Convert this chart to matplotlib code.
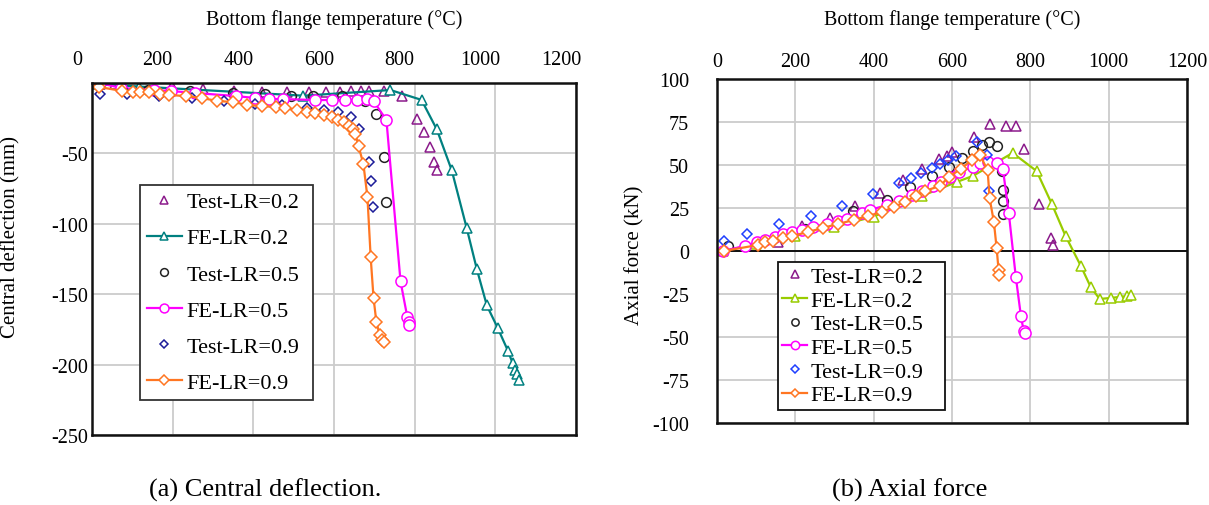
import matplotlib
matplotlib.use("Agg")
import matplotlib.pyplot as plt
import matplotlib.transforms as mtransforms

plt.rcParams['font.family'] = ['Liberation Serif', 'DejaVu Serif']
plt.rcParams['axes.unicode_minus'] = False

# ---- (a) central deflection, temperature (C) vs deflection (mm) ----
a_test02_T = [20, 57, 199, 276, 353, 422, 484, 537, 581, 616, 643, 666, 686, 723, 768, 805, 822, 837, 847, 855]
a_test02_D = [-0.5, -0.7, -2.1, -4.3, -5.7, -6.4, -6.4, -6.4, -6.4, -6.4, -5.7, -5.7, -5.7, -5.7, -9.3, -25.6, -34.9, -45.6, -56.2, -61.9]

a_fe02_T = [15, 117, 524, 740, 817, 855, 892, 929, 954, 979, 1006, 1031, 1043, 1049, 1053, 1058]
a_fe02_D = [-1, -2.5, -9, -5, -12, -33, -62, -103, -132, -158, -174, -190, -199, -204, -207, -211]

a_test05_T = [17, 72, 139, 243, 350, 430, 494, 549, 619, 678, 705, 723, 730]
a_test05_D = [-0.7, -3.6, -5, -5.7, -7.1, -7.8, -9.3, -9.3, -9.3, -12.8, -22.1, -52.7, -84.7]

a_fe05_T = [20, 72, 154, 196, 256, 358, 405, 440, 474, 554, 596, 628, 656, 681, 698, 730, 765, 782, 785, 787]
a_fe05_D = [0, -3.6, -5, -5.7, -7.1, -9.3, -10.7, -11.4, -11.4, -12.1, -12.1, -12.1, -12.1, -11.4, -12.8, -26.3, -140.9, -166.5, -170, -172]

a_test09_T = [20, 87, 166, 248, 328, 405, 472, 534, 576, 609, 643, 663, 686, 691, 696]
a_test09_D = [-7.8, -7.8, -9.3, -10.7, -12.8, -14.9, -15.7, -17.8, -19.2, -20.6, -24.2, -32.8, -56.2, -69.8, -88.3]

a_fe09_T = [17, 75, 102, 119, 142, 169, 191, 233, 273, 311, 350, 385, 422, 455, 479, 509, 534, 554, 574, 596,
            609, 624, 636, 648, 653, 661, 673, 683, 691, 698, 705, 713, 718, 723]
a_fe09_D = [-2.8, -5.7, -6.4, -6.4, -6.4, -7.8, -8.5, -9.3, -10.7, -12.8, -13.5, -15.7, -16.4, -17.1, -17.8, -19.2, -20.6, -21.4, -22.8, -24.2,
            -26.3, -27.8, -30.6, -32.8, -36.3, -44.9, -57.7, -81.2, -123.9, -152.4, -169.5, -178.8, -182.3, -183.8]

# ---- (b) axial force, temperature (C) vs force (kN) ----
b_test02_T = [156, 217, 288, 352, 416, 474, 523, 566, 587, 600, 656, 696, 737, 763, 783, 821, 852, 857]
b_test02_F = [5.2, 14.5, 19.2, 26.2, 33.7, 41.3, 47.7, 53.5, 55.2, 57.6, 66.3, 73.8, 72.7, 72.7, 59.3, 27.3, 7.6, 3.5]

b_fe02_T = [15, 100, 200, 300, 400, 523, 612, 653, 755, 816, 855, 890, 929, 954, 977, 1005, 1028, 1048, 1056]
b_fe02_F = [0, 4, 9, 14, 20, 32, 40.1, 43.6, 57, 46.5, 27.3, 8.7, -8.7, -20.9, -27.9, -27.3, -26.7, -26.2, -25.6]

b_test05_T = [28, 224, 347, 434, 492, 548, 592, 625, 653, 676, 694, 714, 727, 730, 730, 730]
b_test05_F = [2.9, 12.8, 23.3, 29.7, 37.2, 43.6, 48.8, 54.1, 58.1, 61.6, 63.4, 61, 46.5, 35.5, 29.1, 21.5]

b_fe05_T = [15, 71, 102, 122, 148, 168, 191, 217, 245, 281, 309, 332, 370, 390, 434, 464, 497, 523, 551, 571,
            594, 617, 653, 671, 691, 714, 730, 745, 763, 776, 783, 786]
b_fe05_F = [0, 2.9, 5.2, 6.4, 8.1, 9.9, 11, 12.2, 14, 15.7, 17.4, 18.6, 22.1, 23.8, 26.7, 29.1, 32.6, 34.9, 37.8, 40.1,
            43, 45.9, 48.8, 51.2, 51.7, 51.2, 47.7, 22.1, -15.1, -37.8, -46.5, -47.7]

b_test09_T = [18, 77, 158, 240, 319, 398, 464, 495, 520, 548, 569, 589, 610, 663, 689, 694]
b_test09_F = [5.8, 9.9, 15.7, 20.3, 26.2, 33.1, 39.5, 42.4, 45.3, 48.3, 50.6, 52.9, 55.2, 63.4, 55.8, 34.9]

b_fe09_T = [18, 105, 122, 143, 168, 191, 232, 270, 309, 349, 385, 421, 452, 480, 508, 531, 569, 592, 622, 651,
            671, 691, 696, 707, 714, 719, 719]
b_fe09_F = [0, 3.5, 5.2, 5.8, 7.6, 8.7, 11, 13.4, 15.7, 18, 20.3, 22.7, 25.6, 28.5, 32, 34.9, 37.8, 43, 47.7, 52.9,
            55.8, 47.1, 30.8, 16.9, 1.7, -11, -14]

labels = ['Test-LR=0.2', 'FE-LR=0.2', 'Test-LR=0.5', 'FE-LR=0.5', 'Test-LR=0.9', 'FE-LR=0.9']
x_ticks = [0, 200, 400, 600, 800, 1000, 1200]

purple = '#8B1A8B'
black = '#222222'
magenta = '#FF00FF'
orange = '#FF7622'

fig = plt.figure(figsize=(12.09, 5.06), dpi=100)
ax1 = fig.add_axes([0.0761, 0.1383, 0.4003, 0.6957])
ax2 = fig.add_axes([0.5930, 0.1621, 0.3888, 0.6798])


def test_pts(ax, x, y, marker, color, label, ms=7):
    ax.plot(x, y, linestyle='none', marker=marker, ms=ms, mfc='none', mec=color, mew=1.1, label=label)


def fe_line(ax, x, y, marker, color, label, ms=7):
    ax.plot(x, y, '-', color=color, lw=1.6, marker=marker, ms=ms, mfc='white', mec=color, mew=1.1, label=label)


# panel (a)
test_pts(ax1, a_test02_T, a_test02_D, '^', purple, labels[0])
fe_line(ax1, a_fe02_T, a_fe02_D, '^', '#008080', labels[1])
test_pts(ax1, a_test05_T, a_test05_D, 'o', black, labels[2])
fe_line(ax1, a_fe05_T, a_fe05_D, 'o', magenta, labels[3], ms=8)
test_pts(ax1, a_test09_T, a_test09_D, 'D', '#1C1C99', labels[4], ms=5.5)
fe_line(ax1, a_fe09_T, a_fe09_D, 'D', orange, labels[5], ms=6)
ax1.set_xlim(0, 1200)
ax1.set_ylim(-250, 0)
ax1.set_yticks([-250, -200, -150, -100, -50])

# panel (b)
test_pts(ax2, b_test02_T, b_test02_F, '^', purple, labels[0])
fe_line(ax2, b_fe02_T, b_fe02_F, '^', '#99CC00', labels[1])
test_pts(ax2, b_test05_T, b_test05_F, 'o', black, labels[2])
fe_line(ax2, b_fe05_T, b_fe05_F, 'o', magenta, labels[3], ms=8)
test_pts(ax2, b_test09_T, b_test09_F, 'D', '#1F3FFF', labels[4], ms=5.5)
fe_line(ax2, b_fe09_T, b_fe09_F, 'D', orange, labels[5], ms=6)
ax2.axhline(0, color='black', lw=1.3, zorder=1.5)
ax2.set_xlim(0, 1200)
ax2.set_ylim(-100, 100)
ax2.set_yticks(range(-100, 101, 25))

for ax in (ax1, ax2):
    ax.set_xticks(x_ticks)
    ax.xaxis.tick_top()
    ax.xaxis.set_label_position('top')
    ax.grid(True, color='#CCCCCC', lw=1.3)
    ax.set_axisbelow(True)
    ax.tick_params(length=0, labelsize=14.5)
    for s in ax.spines.values():
        s.set_linewidth(1.8)
        s.set_color('#111111')

ax1.set_xlabel('Bottom flange temperature (°C)', fontsize=14.5, labelpad=19)
ax2.set_xlabel('Bottom flange temperature (°C)', fontsize=14.5, labelpad=20)
ax1.tick_params(axis='x', pad=10)
ax1.tick_params(axis='y', pad=3)
ax2.tick_params(axis='x', pad=6)
ax2.tick_params(axis='y', pad=20)
# Excel puts the top labels of panel (a) a little to the left
shift = mtransforms.ScaledTranslation(-15 / 100, 0, fig.dpi_scale_trans)
for t in ax1.get_xticklabels():
    t.set_transform(t.get_transform() + shift)

ax1.set_ylabel('Central deflection (mm)', fontsize=15)
ax1.yaxis.set_label_coords(-0.147, 0.565)
ax2.set_ylabel('Axial force (kN)', fontsize=15)
ax2.yaxis.set_label_coords(-0.155, 0.491)

leg1 = ax1.legend(loc='upper left', bbox_to_anchor=(0.099, 0.099, 0.357, 0.611), mode='expand',
                  borderaxespad=0, fontsize=16,
                  frameon=True, fancybox=False, framealpha=1, edgecolor='#333333',
                  labelspacing=0.7, handlelength=1.6, handletextpad=0.2, markerscale=0.8, borderpad=0.3)
leg1.get_frame().set_linewidth(1.3)
leg2 = ax2.legend(loc='upper left', bbox_to_anchor=(0.13, 0.038, 0.355, 0.43), mode='expand',
                  borderaxespad=0, fontsize=16,
                  frameon=True, fancybox=False, framealpha=1, edgecolor='#111111',
                  labelspacing=0.14, handlelength=1.1, handletextpad=0.15, markerscale=0.75, borderpad=0.2)
leg2.get_frame().set_linewidth(1.3)

fig.text(265 / 1209, 1 - 490 / 506, '(a) Central deflection.', ha='center', va='center', fontsize=19)
fig.text(910 / 1209, 1 - 490 / 506, '(b) Axial force', ha='center', va='center', fontsize=19)

fig.savefig('out.png', dpi=100)
